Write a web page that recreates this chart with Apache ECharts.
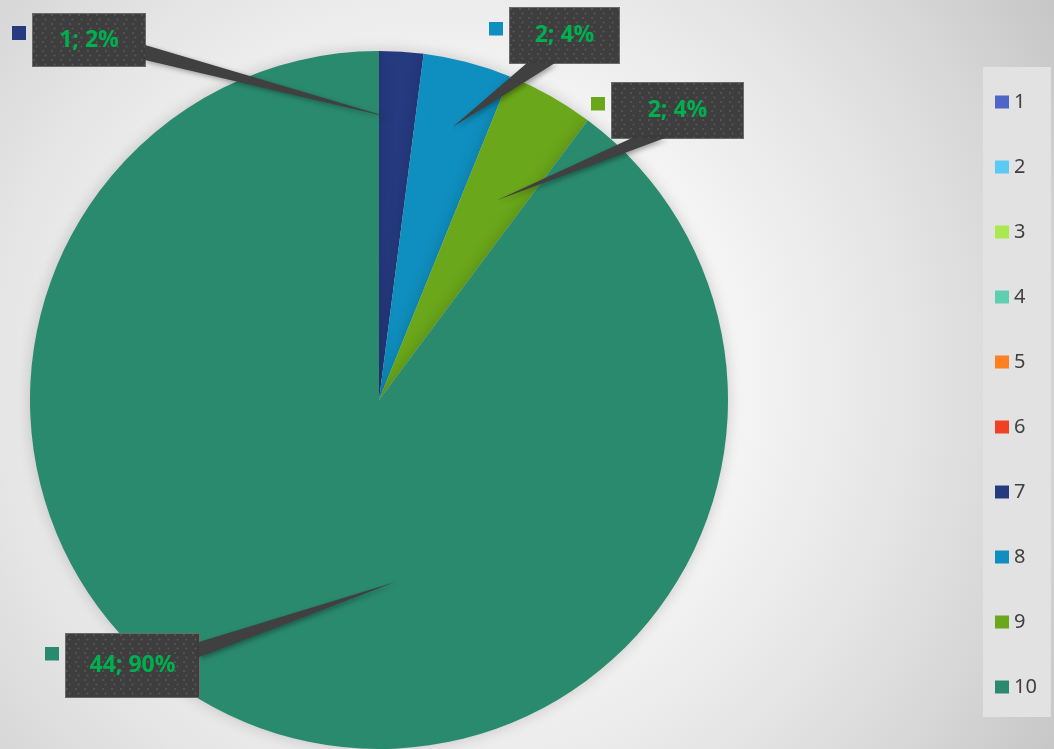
<!DOCTYPE html>
<html>
<head>
<meta charset="utf-8">
<script src="https://cdn.jsdelivr.net/npm/echarts@6/dist/echarts.min.js"></script>
<style>html,body{margin:0;padding:0;}#c{width:1054px;height:749px;}</style>
</head>
<body>
<div id="c"></div>
<script>
const categories = ['1','2','3','4','5','6','7','8','9','10'];
const values = [0, 0, 0, 0, 0, 0, 1, 2, 2, 44];
const colors = ['#4F66C9','#5BCBF5','#A9E84E','#5ED0B1','#FF8021','#F04125','#263A80','#0F8FBF','#6AA71A','#2A8A6E'];

// layout / style config (not data)
const CX = 379, CY = 400, R = 349;
const labelAnchor = {6:[12,40], 7:[489,35.5], 8:[591,110.5], 9:[45,665.5]};
const boxSize = {6:[114,54], 7:[111,57], 8:[133,57], 9:[135,65]};
const markerLift = {6:14, 7:14, 8:14, 9:19};
const tipSpec = {6:[0.3,0.81], 7:[0.53,0.81], 8:[0.58,0.665], 9:[0.428,0.524]};
const wedgeBase = {6:[[145,45],[145,60]], 7:[[527,63],[555,63]], 8:[[632,138],[665,138]], 9:[[199,642],[199,657]]};

function dotted(w, h) {
  const cv = document.createElement('canvas');
  cv.width = w; cv.height = h;
  const g = cv.getContext('2d');
  g.fillStyle = '#3E3E3E'; g.fillRect(0,0,w,h);
  g.fillStyle = '#585858';
  for (let y = 2, row = 0; y < h; y += 4.5, row++) {
    for (let x = (row % 2 ? 4.5 : 2); x < w; x += 9) {
      g.beginPath(); g.arc(x, y, 1, 0, Math.PI*2); g.fill();
    }
  }
  g.strokeStyle = '#6A6A6A'; g.lineWidth = 1; g.strokeRect(0.5,0.5,w-1,h-1);
  return cv;
}
function markerImg(color, lift) {
  const cv = document.createElement('canvas');
  cv.width = 14; cv.height = lift*2;
  const g = cv.getContext('2d');
  g.fillStyle = color; g.fillRect(0,0,14,14);
  return cv;
}

const total = values.reduce((a,b)=>a+b,0);
const PADX = 10, FS = 23;
const rich = { s:{width:6} };
colors.forEach((c,i)=>{
  const lift = markerLift[i] || 7;
  rich['m'+i] = {width:14, height:lift*2, backgroundColor:{image:markerImg(c, lift)}};
  const bs = boxSize[i] || [110,56];
  rich['v'+i] = {fontSize:FS, fontWeight:'bold', color:'#00B050', fontFamily:'Open Sans', lineHeight:FS,
     width: bs[0]-2*PADX, align:'center',
     backgroundColor:{image:dotted(bs[0], bs[1])}, padding:[(bs[1]-FS)/2, PADX, (bs[1]-FS)/2, PADX],
     shadowBlur:6, shadowColor:'rgba(0,0,0,0.45)', shadowOffsetX:3, shadowOffsetY:3};
});

const data = categories.map((c,i)=>({
  name:c, value:values[i],
  label:{show: values[i]>0},
  labelLine:{show:false}
}));

// wedge callouts computed from data angles
let cum = 0;
const graphics = [];
values.forEach((v,i)=>{
  const a0 = cum/total*360; cum += v; const a1 = cum/total*360;
  if (v>0 && tipSpec[i]) {
    const a = (a0 + (a1-a0)*tipSpec[i][0]) * Math.PI/180;
    const r = R*tipSpec[i][1];
    const tip = [CX + r*Math.sin(a), CY - r*Math.cos(a)];
    graphics.push({type:'polygon', z:3, shape:{points:[tip, wedgeBase[i][0], wedgeBase[i][1]]},
      style:{fill:'#404040', shadowBlur:5, shadowColor:'rgba(0,0,0,0.35)', shadowOffsetX:2, shadowOffsetY:2}});
  }
});

const chart = echarts.init(document.getElementById('c'));
chart.setOption({
  animation:false,
  backgroundColor: new echarts.graphic.RadialGradient(450, 380, 760, [
    {offset:0, color:'#FFFFFF'},{offset:0.3, color:'#FAFAFA'},{offset:0.6, color:'#E5E5E5'},
    {offset:0.77, color:'#D7D7D7'},{offset:0.93, color:'#C7C7C7'},{offset:1, color:'#C2C2C2'}], true),
  color: colors,
  legend:{
    orient:'vertical', left:983, top:67, backgroundColor:'#E2E2E2',
    padding:[25,14,20,12], itemWidth:14, itemHeight:13, itemGap:45,
    icon:'rect', data:categories,
    textStyle:{fontSize:20, color:'#404040', lineHeight:20, fontFamily:'Noto Sans'}
  },
  graphic: graphics,
  series:[{
    type:'pie', center:[CX,CY], radius:R, startAngle:90, clockwise:true,
    avoidLabelOverlap:false, silent:true,
    itemStyle:{shadowBlur:15, shadowColor:'rgba(0,0,0,0.18)'},
    label:{
      position:'outside', rich:rich,
      formatter:(p)=>'{m'+p.dataIndex+'|}{s|}{v'+p.dataIndex+'|'+p.value+'; '+Math.round(p.value/total*100)+'%}'
    },
    labelLayout:(p)=>{
      const pos = labelAnchor[p.dataIndex];
      if(!pos) return {};
      return {x:pos[0], y:pos[1], align:'left', verticalAlign:'middle'};
    },
    data:data
  }]
});
</script>
</body>
</html>
